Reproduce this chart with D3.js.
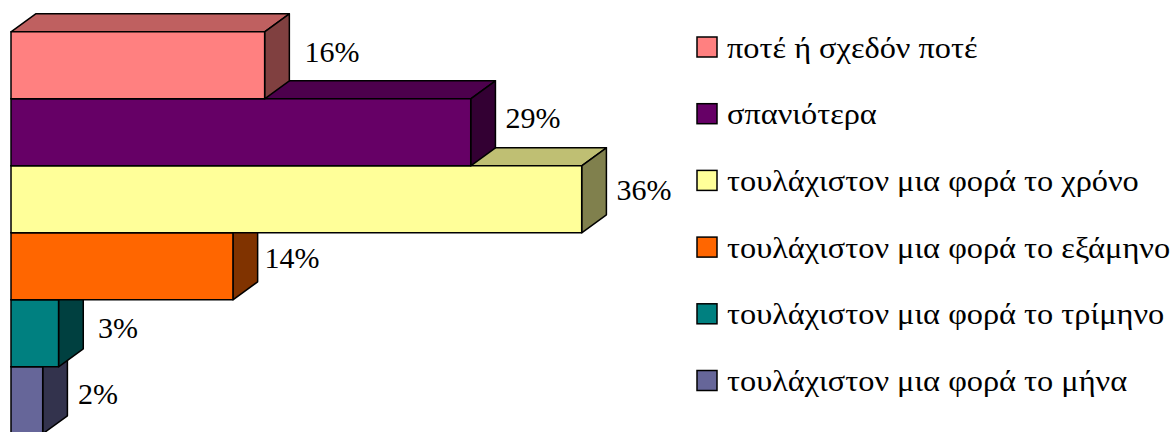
<!DOCTYPE html>
<html><head><meta charset="utf-8">
<script src="https://cdn.jsdelivr.net/npm/d3@7"></script>
<style>html,body{margin:0;padding:0;background:#fff;overflow:hidden}svg{display:block}text{font-family:"Liberation Serif",serif;fill:#000}</style>
</head><body><svg id="c" width="1174" height="432"></svg>
<script>
const categories=["ποτέ ή σχεδόν ποτέ","σπανιότερα","τουλάχιστον μια φορά το χρόνο","τουλάχιστον μια φορά το εξάμηνο","τουλάχιστον μια φορά το τρίμηνο","τουλάχιστον μια φορά το μήνα"];
const values=[16,29,36,14,3,2];
const colors=["#FF8080","#660066","#FFFF99","#FF6600","#008080","#666699"];

const svg=d3.select("#c");
const x=d3.scaleLinear().domain([0,36]).range([11,581.7]);
const y=d3.scaleBand().domain(categories).range([31.8,433.8]);
const dx=24.7,dy=18;
const labelX=[332,533,644,292,118,98];
const labelY=[51.5,117.5,189.5,257.5,327.5,393.5];
const poly=(pts,fill)=>g=>g.append("polygon").attr("points",pts.map(p=>p.join(",")).join(" ")).attr("fill",fill).attr("stroke","#000").attr("stroke-width",1.5).attr("stroke-linejoin","round");
const shade=(c,k)=>{const r=d3.rgb(c);return d3.rgb(r.r*k,r.g*k,r.b*k).formatHex();};

// far-to-near order: lower bars are painted first
const order=d3.range(categories.length).reverse();
order.forEach(i=>{
  const g=svg.append("g");
  const x0=x(0),x1=x(values[i]),y0=y(categories[i]),y1=y0+y.bandwidth();
  g.call(poly([[x0,y0],[x0+dx,y0-dy],[x1+dx,y0-dy],[x1,y0]],shade(colors[i],.75)));
  g.call(poly([[x1,y0],[x1+dx,y0-dy],[x1+dx,y1-dy],[x1,y1]],shade(colors[i],.5)));
  g.call(poly([[x0,y0],[x1,y0],[x1,y1],[x0,y1]],colors[i]));
});
values.forEach((v,i)=>{
  svg.append("text").attr("x",labelX[i]).attr("y",labelY[i]+10).attr("text-anchor","middle").attr("font-size",30).text(v+"%");
});
const leg=d3.scalePoint().domain(categories).range([47,380.5]);
categories.forEach((c,i)=>{
  const cy=leg(c);
  svg.append("rect").attr("x",697).attr("y",cy-10).attr("width",20).attr("height",20).attr("fill",colors[i]).attr("stroke","#000").attr("stroke-width",1.5);
  svg.append("text").attr("transform",`translate(727,${cy+10.5}) scale(1.115,1)`).attr("font-size",29).text(c);
});
</script></body></html>
